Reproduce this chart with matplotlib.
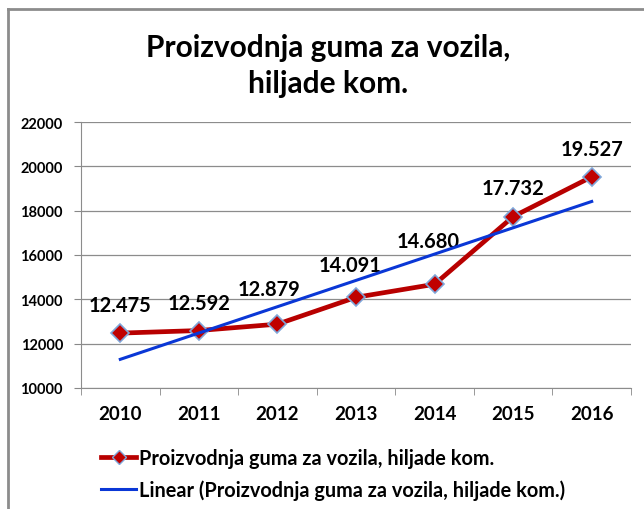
import matplotlib
matplotlib.use("Agg")
import matplotlib.pyplot as plt
from matplotlib.lines import Line2D
import numpy as np

plt.rcParams['font.family'] = ['Lato', 'DejaVu Sans']

# podaci
godine = ['2010', '2011', '2012', '2013', '2014', '2015', '2016']
vrijednosti = [12475, 12592, 12879, 14091, 14680, 17732, 19527]
oznake = ['12.475', '12.592', '12.879', '14.091', '14.680', '17.732', '19.527']

x = np.arange(len(godine))

fig = plt.figure(figsize=(6.44, 5.10), dpi=100)
ax = fig.add_axes([0.1258, 0.2373, 0.854, 0.5215])

# linija serije
ax.plot(x, vrijednosti, color='#B80000', linewidth=3.4, marker='D', markersize=9,
        markerfacecolor='#C00000', markeredgecolor='#7FA6D9', markeredgewidth=1.2, zorder=3)

# linearni trend
k, n = np.polyfit(x, vrijednosti, 1)
ax.plot(x, k * x + n, color='#0A37D6', linewidth=2.2, zorder=4)

# pomaci oznaka (px) da ne preklapaju trend liniju
pomaci = [(0, 28), (0, 28), (-8, 35), (-6, 32), (-6, 43), (0, 29), (0, 28)]
for xi, yi, t, p in zip(x, vrijednosti, oznake, pomaci):
    ax.annotate(t, (xi, yi), xytext=p, textcoords='offset pixels',
                ha='center', va='center', fontsize=14.5, fontweight='bold')

ax.set_xlim(-0.5, 6.5)
ax.set_ylim(10000, 22000)
ax.set_yticks(range(10000, 22001, 2000))
ax.set_yticklabels([str(v) for v in range(10000, 22001, 2000)], fontsize=10.5, fontweight='bold')
ax.set_xticks(x)
ax.set_xticklabels(godine, fontsize=13.5, fontweight='bold')
ax.set_xticks(np.arange(-0.5, 6.6, 1), minor=True)
ax.tick_params(axis='x', which='major', length=0, pad=12)
ax.tick_params(axis='x', which='minor', length=5, color='#888888')
ax.tick_params(axis='y', length=5, color='#888888', pad=8)
ax.grid(axis='y', color='#8C8C8C', linewidth=0.9)
ax.set_axisbelow(True)
for s in ['top', 'right']:
    ax.spines[s].set_visible(False)
ax.spines['left'].set_color('#8C8C8C')
ax.spines['bottom'].set_color('#8C8C8C')

fig.text(0.509, 0.87, 'Proizvodnja guma za vozila,\nhiljade kom.', ha='center', va='center',
         fontsize=21.5, fontweight='bold', linespacing=1.35)

# legenda
h1 = Line2D([], [], color='#B80000', linewidth=3.4, marker='D', markersize=7,
            markerfacecolor='#C00000', markeredgecolor='#7FA6D9')
h2 = Line2D([], [], color='#0A37D6', linewidth=2.2)
fig.legend([h1, h2], ['Proizvodnja guma za vozila, hiljade kom.',
                      'Linear (Proizvodnja guma za vozila, hiljade kom.)'],
           loc='upper left', bbox_to_anchor=(0.145, 0.136), frameon=False,
           prop={'size': 14.3, 'weight': 'bold'}, handlelength=1.75, handletextpad=0.15,
           labelspacing=0.58, borderaxespad=0)

# okvir
fig.add_artist(Line2D([0.0124, 0.0124], [0, 0.98], color='#8C8C8C', linewidth=2, transform=fig.transFigure))
fig.add_artist(Line2D([0.0124, 1], [0.98, 0.98], color='#8C8C8C', linewidth=2, transform=fig.transFigure))

fig.savefig('out.png', dpi=100)
